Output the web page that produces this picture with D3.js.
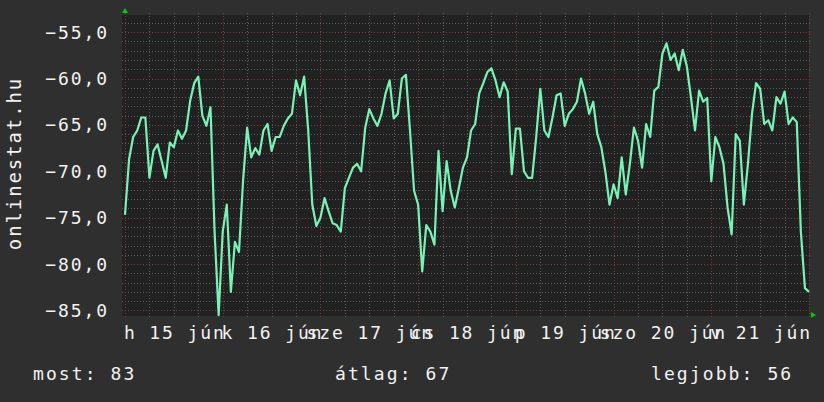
<!DOCTYPE html>
<html>
<head>
<meta charset="utf-8">
<script src="https://cdn.jsdelivr.net/npm/d3@7"></script>
<style>
  body { margin: 0; background: #2f2f2f; }
  svg text { font-family: "DejaVu Sans Mono", monospace; fill: #f2f2f2; }
</style>
</head>
<body>
<svg id="chart"></svg>
<script>
// hourly values, 7 days starting jún 15 00:00
let hourValues = [
  -74.7, -68.7, -66.3, -65.6, -64.2, -64.2, -70.7, -67.8, -67.1, -68.9,
  -70.7, -66.9, -67.4, -65.6, -66.5, -65.6, -62.4, -60.5, -59.8, -64.0,
  -65.1, -63.1, -76.5, -85.5, -76.5, -73.6, -83.0, -77.6, -78.7, -71.0,
  -65.3, -68.5, -67.5, -68.2, -65.6, -64.9, -67.8, -66.3, -66.3, -65.1,
  -64.3, -63.8, -60.2, -61.8, -59.8, -65.6, -73.6, -75.9, -75.0, -72.9,
  -74.3, -75.6, -75.8, -76.5, -71.8, -70.7, -69.6, -69.2, -70.0, -65.3,
  -63.3, -64.3, -65.1, -63.8, -61.6, -60.2, -64.3, -63.8, -60.0, -59.6,
  -65.6, -72.1, -73.6, -80.8, -75.8, -76.5, -77.9, -67.8, -74.3, -68.9,
  -72.1, -73.9, -71.8, -69.6, -68.5, -65.6, -64.9, -61.6, -60.5, -59.3,
  -58.9, -60.2, -62.0, -60.4, -61.4, -70.3, -65.4, -65.4, -70.0, -70.7,
  -70.7, -66.3, -61.1, -65.6, -66.3, -64.2, -61.8, -61.6, -65.1, -63.8,
  -63.3, -62.5, -60.0, -61.6, -63.8, -62.5, -66.0, -67.4, -70.1, -73.6,
  -71.4, -72.9, -68.5, -72.5, -69.2, -65.3, -66.7, -69.6, -64.9, -66.3,
  -61.3, -60.9, -57.3, -56.2, -58.0, -57.3, -59.1, -56.9, -58.7, -62.0,
  -65.6, -61.3, -62.5, -62.1, -71.1, -66.3, -67.4, -69.2, -73.9, -76.8,
  -66.0, -66.7, -73.6, -69.2, -63.8, -60.5, -61.1, -64.9, -64.5, -65.6,
  -62.0, -62.7, -61.4, -64.9, -64.2, -64.7, -76.5, -82.6, -83.0
];
let dayLabels = ["h 15 jún", "k 16 jún", "sze 17 jún", "cs 18 jún", "p 19 jún", "szo 20 jún", "v 21 jún"];
let yTickValues = [-85, -80, -75, -70, -65, -60, -55];
let legendLabels = ["most: 83", "átlag: 67", "legjobb: 56"];
let yTitle = "onlinestat.hu";

let width = 824, height = 402;
let plot = {left: 125, right: 809, top: 15, bottom: 316};
let lineColor = "#78f2b6";
let minorColor = "#5c5c5c";
let majorColor = "#7e3b3b";
let arrowColor = "#00cc00";

let svg = d3.select("#chart").attr("width", width).attr("height", height);

svg.append("rect").attr("width", width).attr("height", height).attr("fill", "#2f2f2f");
svg.append("rect")
  .attr("x", plot.left - 3).attr("y", plot.top)
  .attr("width", plot.right - plot.left + 3).attr("height", plot.bottom - plot.top)
  .attr("fill", "#212121");

let x = d3.scaleLinear().domain([0, 168]).range([plot.left, plot.right]);
let y = d3.scaleLinear().domain([-85.6, -53.15]).range([plot.bottom, plot.top]);

// grid: minor every 1 unit / 6 hours, major every 5 units / 1 day
let grid = svg.append("g");
d3.range(-85, -53, 1).forEach(function(v) {
  let major = v % 5 === 0;
  grid.append("line")
    .attr("x1", plot.left - 3).attr("x2", plot.right + 2)
    .attr("y1", Math.round(y(v)) + 0.5).attr("y2", Math.round(y(v)) + 0.5)
    .attr("stroke", major ? majorColor : minorColor)
    .attr("stroke-dasharray", "1,2");
});
d3.range(0, 169, 6).forEach(function(h) {
  let major = h % 24 === 0;
  grid.append("line")
    .attr("x1", Math.round(x(h)) + 0.5).attr("x2", Math.round(x(h)) + 0.5)
    .attr("y1", plot.top - 2).attr("y2", plot.bottom + 3)
    .attr("stroke", major ? majorColor : minorColor)
    .attr("stroke-dasharray", "1,2");
});

// the line
let line = d3.line()
  .x(function(d, i) { return x(i); })
  .y(function(d) { return y(d); });
svg.append("path")
  .datum(hourValues)
  .attr("d", line)
  .attr("fill", "none")
  .attr("stroke", lineColor)
  .attr("stroke-width", 2.2)
  .attr("stroke-linejoin", "round");

// axis arrows
svg.append("path")
  .attr("d", "M" + (plot.left - 3) + ",13 L" + (plot.left + 3) + ",13 L" + plot.left + ",8 Z")
  .attr("fill", arrowColor);
svg.append("path")
  .attr("d", "M" + (plot.right + 2) + "," + (plot.bottom - 4) + " L" + (plot.right + 2) + "," + (plot.bottom + 2) + " L" + (plot.right + 7) + "," + (plot.bottom - 1) + " Z")
  .attr("fill", arrowColor);

// y tick labels
let fmt = function(v) { return d3.format(".1f")(v).replace(".", ","); };
svg.selectAll(".ylab")
  .data(yTickValues)
  .enter()
  .append("text")
  .attr("class", "ylab")
  .attr("x", 109)
  .attr("y", function(d) { return y(d) + 6.5; })
  .attr("text-anchor", "end")
  .attr("font-size", 18)
  .attr("letter-spacing", 1.9)
  .text(fmt);

// day labels centred at noon
svg.selectAll(".xlab")
  .data(dayLabels)
  .enter()
  .append("text")
  .attr("class", "xlab")
  .attr("x", function(d, i) { return x(12 + 24 * i) + 1; })
  .attr("y", 339)
  .attr("text-anchor", "middle")
  .attr("font-size", 18)
  .attr("letter-spacing", 1.9)
  .text(function(d) { return d; });

// y title
svg.append("text")
  .attr("transform", "translate(21," + ((plot.top + plot.bottom) / 2 - 2) + ") rotate(-90)")
  .attr("text-anchor", "middle")
  .attr("font-size", 19)
  .attr("letter-spacing", 1.9)
  .text(yTitle);

// legend
let legendX = [33, 335, 651];
svg.selectAll(".leg")
  .data(legendLabels)
  .enter()
  .append("text")
  .attr("class", "leg")
  .attr("x", function(d, i) { return legendX[i]; })
  .attr("y", 380)
  .attr("font-size", 18)
  .attr("letter-spacing", 2.1)
  .text(function(d) { return d; });
</script>
</body>
</html>
